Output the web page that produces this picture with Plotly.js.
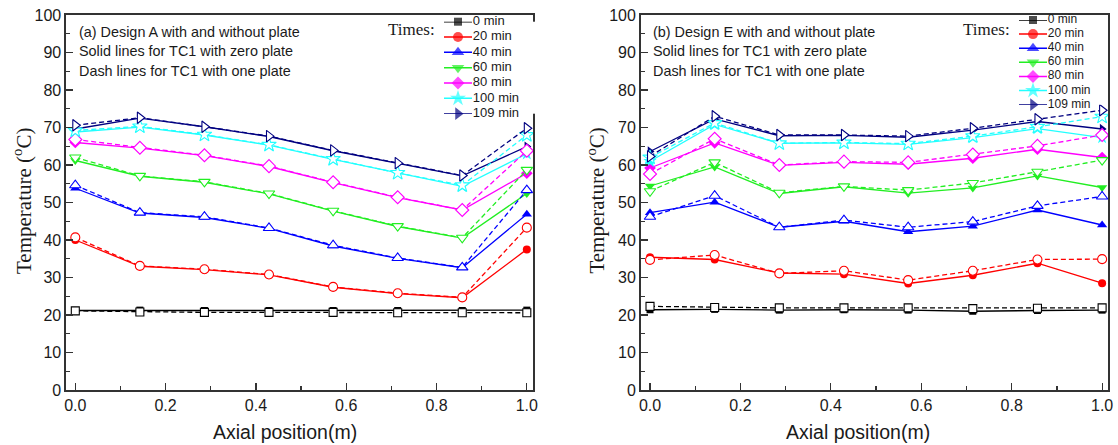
<!DOCTYPE html>
<html>
<head>
<meta charset="utf-8">
<script src="https://cdn.plot.ly/plotly-3.0.1.min.js"></script>
<style>html,body{margin:0;padding:0;background:#fff;}#chart{width:1118px;height:445px;}</style>
</head>
<body>
<div id="chart"></div>
<script>
// ---------- DATA ----------
const axialPos = [0, 0.143, 0.286, 0.429, 0.571, 0.714, 0.857, 1.0];
const timeLabels = ['0 min', '20 min', '40 min', '60 min', '80 min', '100 min', '109 min'];
const xTickVals = [0, 0.2, 0.4, 0.6, 0.8, 1.0];
const xTickText = ['0.0', '0.2', '0.4', '0.6', '0.8', '1.0'];
const yTickVals = [0, 10, 20, 30, 40, 50, 60, 70, 80, 90, 100];

// Design A, TC1 with zero plate (solid)
const a_zero_0   = [21.2, 21.3, 21.2, 21.2, 21.2, 21.2, 21.2, 21.3];
const a_zero_20  = [40.0, 33.0, 32.1, 30.7, 27.4, 25.7, 24.6, 37.5];
const a_zero_40  = [53.8, 47.2, 46.0, 43.1, 38.4, 35.1, 32.6, 46.9];
const a_zero_60  = [61.2, 57.0, 55.4, 52.3, 47.7, 43.6, 40.5, 52.4];
const a_zero_80  = [66.0, 64.5, 62.5, 59.6, 55.3, 51.3, 48.0, 57.8];
const a_zero_100 = [68.8, 70.1, 68.0, 65.3, 61.5, 57.8, 54.3, 63.0];
const a_zero_109 = [69.6, 72.5, 70.2, 67.6, 63.8, 60.4, 57.1, 64.9];
// Design A, TC1 with one plate (dash)
const a_one_0   = [21.1, 20.8, 20.7, 20.7, 20.7, 20.6, 20.6, 20.6];
const a_one_20  = [40.7, 33.1, 32.2, 30.8, 27.5, 25.8, 24.7, 43.3];
const a_one_40  = [54.6, 47.3, 46.2, 43.2, 38.6, 35.2, 32.7, 53.3];
const a_one_60  = [62.0, 57.1, 55.5, 52.4, 47.8, 43.7, 40.6, 58.7];
const a_one_80  = [66.8, 64.6, 62.6, 59.7, 55.4, 51.4, 48.0, 63.8];
const a_one_100 = [69.2, 70.3, 68.1, 65.4, 61.6, 57.9, 54.6, 68.0];
const a_one_109 = [70.6, 72.6, 70.2, 67.7, 63.9, 60.5, 57.2, 69.8];
// Design E, TC1 with zero plate (solid)
const b_zero_0   = [21.4, 21.5, 21.3, 21.4, 21.3, 21.0, 21.2, 21.3];
const b_zero_20  = [35.4, 34.8, 31.2, 30.9, 28.4, 30.6, 33.8, 28.5];
const b_zero_40  = [47.3, 50.1, 43.4, 45.0, 42.2, 43.7, 48.0, 44.0];
const b_zero_60  = [54.4, 59.5, 52.4, 54.2, 52.5, 53.9, 57.1, 54.0];
const b_zero_80  = [59.2, 65.9, 59.9, 60.7, 60.2, 61.8, 64.2, 62.0];
const b_zero_100 = [61.0, 70.8, 65.8, 65.9, 65.5, 67.3, 69.7, 67.3];
const b_zero_109 = [63.6, 72.3, 67.8, 67.9, 67.4, 69.3, 71.6, 69.6];
// Design E, TC1 with one plate (dash)
const b_one_0   = [22.3, 22.0, 21.9, 21.9, 21.9, 21.7, 21.8, 21.9];
const b_one_20  = [34.7, 36.0, 31.1, 31.8, 29.3, 31.8, 34.8, 34.9];
const b_one_40  = [46.2, 51.8, 43.4, 45.3, 43.4, 44.9, 49.1, 51.6];
const b_one_60  = [53.0, 60.7, 52.6, 54.3, 53.3, 55.2, 58.2, 61.3];
const b_one_80  = [57.6, 67.0, 60.0, 60.9, 60.7, 62.8, 65.1, 68.0];
const b_one_100 = [62.0, 71.2, 65.8, 66.0, 65.7, 67.7, 70.2, 72.9];
const b_one_109 = [62.3, 73.0, 68.0, 68.0, 67.7, 69.8, 72.2, 74.6];

// ---------- STYLES ----------
const colors = ['#000000', '#FF0000', '#0000FF', '#22EE22', '#FF00FF', '#22FFFF', '#000080'];
const symbols = ['square', 'circle', 'triangle-up', 'triangle-down', 'diamond', 'star', 'triangle-right'];
const filledSize = [7, 8, 9, 9, 9, 10, 9];
const openSize = [8, 9, 10, 10, 10, 11, 10];
const legendSize = [8, 10, 11, 11, 10, 12, 11];
const SANS = 'Liberation Sans, Arial, sans-serif';
const SERIF = 'Liberation Serif, Times New Roman, serif';
const TXT = '#1a1a1a';

const panels = [
  {xa: 'x', ya: 'y', zero: [a_zero_0, a_zero_20, a_zero_40, a_zero_60, a_zero_80, a_zero_100, a_zero_109],
   one: [a_one_0, a_one_20, a_one_40, a_one_60, a_one_80, a_one_100, a_one_109]},
  {xa: 'x2', ya: 'y2', zero: [b_zero_0, b_zero_20, b_zero_40, b_zero_60, b_zero_80, b_zero_100, b_zero_109],
   one: [b_one_0, b_one_20, b_one_40, b_one_60, b_one_80, b_one_100, b_one_109]}
];

const traces = [];
panels.forEach(p => {
  p.zero.forEach((vals, i) => {
    traces.push({
      type: 'scatter', mode: 'lines+markers', x: axialPos, y: vals, xaxis: p.xa, yaxis: p.ya,
      name: timeLabels[i], cliponaxis: false,
      line: {color: colors[i], width: 1.3},
      marker: {symbol: symbols[i], color: colors[i], size: filledSize[i], line: {width: 0}}
    });
  });
  p.one.forEach((vals, i) => {
    traces.push({
      type: 'scatter', mode: 'lines+markers', x: axialPos, y: vals, xaxis: p.xa, yaxis: p.ya,
      name: timeLabels[i] + ' (one plate)', cliponaxis: false,
      line: {color: colors[i], width: 1.3, dash: '5px,3px'},
      marker: {symbol: symbols[i], color: '#ffffff', size: openSize[i], line: {width: 1.1, color: colors[i]}}
    });
  });
});

// custom compact legends (one per panel), rows = series index
const rowIdx = timeLabels.map((_, i) => i);
[['x3', 'y3', 13], ['x4', 'y4', 12]].forEach(([xa, ya, fs]) => {
  rowIdx.forEach(i => {
    traces.push({type: 'scatter', mode: 'lines', x: [0, 1], y: [i, i], xaxis: xa, yaxis: ya,
      line: {color: colors[i], width: 1.5}, cliponaxis: false, hoverinfo: 'skip'});
  });
  traces.push({type: 'scatter', mode: 'markers', x: rowIdx.map(() => 0.5), y: rowIdx, xaxis: xa, yaxis: ya,
    marker: {symbol: symbols, color: colors, size: legendSize, line: {width: 0}}, cliponaxis: false, hoverinfo: 'skip'});
  traces.push({type: 'scatter', mode: 'text', x: rowIdx.map(() => 1.03), y: rowIdx, xaxis: xa, yaxis: ya,
    text: timeLabels, textposition: 'middle right', textfont: {family: SANS, size: fs, color: TXT},
    cliponaxis: false, hoverinfo: 'skip'});
});

function mainX(domain) {
  return {
    domain: domain, range: [-0.0206, 1.0137], tickvals: xTickVals, ticktext: xTickText,
    ticks: 'inside', ticklen: 7, tickwidth: 1.2, tickcolor: '#333',
    minor: {dtick: 0.1, tick0: 0, ticks: 'inside', ticklen: 4, tickwidth: 1.2, tickcolor: '#333'},
    showline: true, mirror: true, linecolor: '#333', linewidth: 1.6,
    showgrid: false, zeroline: false, tickfont: {family: SANS, size: 16, color: TXT}
  };
}
function mainY(domain, anchor) {
  return {
    domain: domain, range: [0, 100], tickvals: yTickVals, anchor: anchor,
    ticks: 'inside', ticklen: 7, tickwidth: 1.2, tickcolor: '#333',
    minor: {dtick: 5, tick0: 0, ticks: 'inside', ticklen: 4, tickwidth: 1.2, tickcolor: '#333'},
    showline: true, mirror: true, linecolor: '#333', linewidth: 1.6,
    showgrid: false, zeroline: false, tickfont: {family: SANS, size: 16, color: TXT}
  };
}
const W = 1118, H = 445;
const px = v => v / W, py = v => (H - v) / H;
const yDom = [py(390), py(15)];

const layout = {
  width: W, height: H, margin: {l: 0, r: 0, t: 0, b: 0},
  paper_bgcolor: '#fff', plot_bgcolor: '#fff', showlegend: false,
  xaxis: Object.assign(mainX([px(66), px(533)]), {anchor: 'y'}),
  yaxis: mainY(yDom, 'x'),
  xaxis2: Object.assign(mainX([px(640.7), px(1108.3)]), {anchor: 'y2'}),
  yaxis2: mainY(yDom, 'x2'),
  xaxis3: {domain: [px(444), px(444 + 28 * 4)], range: [0, 4], visible: false, anchor: 'y3', fixedrange: true},
  yaxis3: {domain: [py(113.7), py(21.7)], range: [6, 0], visible: false, anchor: 'x3', fixedrange: true},
  xaxis4: {domain: [px(1019), px(1019 + 28 * 3)], range: [0, 3], visible: false, anchor: 'y4', fixedrange: true},
  yaxis4: {domain: [py(104.7), py(20)], range: [6, 0], visible: false, anchor: 'x4', fixedrange: true},
  annotations: []
};

const noteLines = [
  ['(a) Design A with and without plate', '(b) Design E with and without plate'],
  ['Solid lines for TC1 with zero plate', 'Solid lines for TC1 with zero plate'],
  ['Dash lines for TC1 with one plate', 'Dash lines for TC1 with one plate']
];
const noteY = [31.7, 51, 71];
const noteX = [77, 651.3];
noteLines.forEach((pair, r) => pair.forEach((t, c) => {
  layout.annotations.push({text: t, xref: 'paper', yref: 'paper', x: px(noteX[c]), y: py(noteY[r]),
    xanchor: 'left', yanchor: 'middle', showarrow: false, font: {family: SANS, size: 14.4, color: TXT}});
}));
[411.7, 986.7].forEach(cx => layout.annotations.push({text: 'Times:', xref: 'paper', yref: 'paper',
  x: px(cx), y: py(29.3), xanchor: 'center', yanchor: 'middle', showarrow: false,
  font: {family: SERIF, size: 17, color: TXT}}));
[285.4, 858].forEach(cx => layout.annotations.push({text: 'Axial position(m)', xref: 'paper', yref: 'paper',
  x: px(cx), y: py(432), xanchor: 'center', yanchor: 'middle', showarrow: false,
  font: {family: SANS, size: 19.5, color: TXT}}));
[22, 595.6].forEach(cx => layout.annotations.push({text: 'Temperature (<sup>o</sup>C)', xref: 'paper', yref: 'paper',
  x: px(cx), y: py(201), xanchor: 'center', yanchor: 'middle', textangle: -90, showarrow: false,
  font: {family: SERIF, size: 21, color: TXT}}));

Plotly.newPlot('chart', traces, layout, {displayModeBar: false, staticPlot: true});
</script>
</body>
</html>
